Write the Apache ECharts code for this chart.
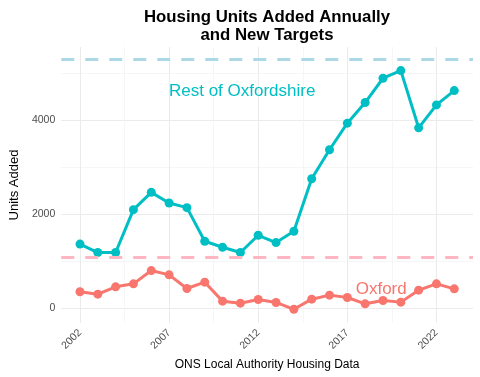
<!DOCTYPE html>
<html>
<head>
<meta charset="utf-8">
<script src="https://cdn.jsdelivr.net/npm/echarts@6/dist/echarts.min.js"></script>
<style>
html, body { margin: 0; padding: 0; background: #fff; }
#chart { width: 480px; height: 377px; }
</style>
</head>
<body>
<div id="chart"></div>
<script>
// data
var years = [2002, 2003, 2004, 2005, 2006, 2007, 2008, 2009, 2010, 2011, 2012,
    2013, 2014, 2015, 2016, 2017, 2018, 2019, 2020, 2021, 2022, 2023];
var restValues = [1365, 1185, 1185, 2100, 2468, 2241, 2142, 1425, 1298, 1185, 1553,
    1397, 1638, 2759, 3376, 3943, 4383, 4901, 5064, 3844, 4333, 4638];
var oxfordValues = [348, 298, 454, 518, 801, 709, 418, 553, 149, 106, 184,
    121, -25, 191, 277, 227, 92, 163, 128, 383, 518, 411];
var restTarget = 5300;
var oxfordTarget = 1075;
var yearTicks = [2002, 2007, 2012, 2017, 2022];
var yearMinor = [2004.5, 2009.5, 2014.5, 2019.5];
var unitTicks = [0, 2000, 4000];
var unitMinor = [1000, 3000, 5000];

var restColor = '#00BFC4';
var oxfordColor = '#F8766D';
var font = 'Liberation Sans, Arial, sans-serif';

function pairs(xs, ys) {
    return xs.map(function (x, i) { return [x, ys[i]]; });
}

var dom = document.getElementById('chart');
var chart = echarts.init(dom, null, { renderer: 'canvas' });

var majorGrid = { show: true, lineStyle: { color: '#ebebeb', width: 1 } };
var minorGrid = { show: true, lineStyle: { color: '#f2f2f2', width: 0.7 } };

var option = {
    animation: false,
    backgroundColor: '#fff',
    title: {
        text: 'Housing Units Added Annually\nand New Targets',
        left: 262,
        top: 3,
        textAlign: 'center',
        textStyle: {
            fontFamily: font,
            fontSize: 16.8,
            fontWeight: 'bold',
            color: '#000',
            lineHeight: 18
        }
    },
    grid: { left: 52, right: 7, top: 47, bottom: 54, containLabel: false },
    xAxis: [
        {
            type: 'value',
            min: 2000.95,
            max: 2024.05,
            name: 'ONS Local Authority Housing Data',
            nameLocation: 'middle',
            nameGap: 33,
            nameTextStyle: { fontFamily: font, fontSize: 12, color: '#000' },
            axisLine: { show: false },
            axisTick: { show: false, customValues: yearTicks },
            axisLabel: {
                customValues: yearTicks,
                rotate: 45,
                margin: 8,
                fontFamily: font,
                fontSize: 10.5,
                color: '#4d4d4d',
                formatter: function (v) { return String(v); }
            },
            splitLine: majorGrid
        },
        {
            type: 'value',
            min: 2000.95,
            max: 2024.05,
            position: 'bottom',
            axisLine: { show: false },
            axisTick: { show: false, customValues: yearMinor },
            axisLabel: { show: false, customValues: yearMinor },
            splitLine: minorGrid
        }
    ],
    yAxis: [
        {
            type: 'value',
            min: -317,
            max: 5567,
            name: 'Units Added',
            nameLocation: 'middle',
            nameRotate: 90,
            nameGap: 33,
            nameTextStyle: { fontFamily: font, fontSize: 13, color: '#000' },
            axisLine: { show: false },
            axisTick: { show: false, customValues: unitTicks },
            axisLabel: {
                customValues: unitTicks,
                margin: 6,
                fontFamily: font,
                fontSize: 10.5,
                color: '#4d4d4d',
                formatter: function (v) { return String(v); }
            },
            splitLine: majorGrid
        },
        {
            type: 'value',
            min: -317,
            max: 5567,
            position: 'left',
            axisLine: { show: false },
            axisTick: { show: false, customValues: unitMinor },
            axisLabel: { show: false, customValues: unitMinor },
            splitLine: minorGrid
        }
    ],
    series: [
        {
            name: 'Rest of Oxfordshire',
            type: 'line',
            data: pairs(years, restValues),
            color: restColor,
            lineStyle: { width: 3, color: restColor },
            symbol: 'circle',
            symbolSize: 9,
            itemStyle: { color: restColor },
            z: 3,
            markLine: {
                silent: true,
                symbol: 'none',
                label: { show: false },
                lineStyle: { color: '#ADD8E6', width: 3, type: [13, 11] },
                data: [{ yAxis: restTarget }]
            },
            markPoint: {
                silent: true,
                symbol: 'circle',
                symbolSize: 0,
                label: {
                    show: true,
                    position: 'inside',
                    formatter: 'Rest of Oxfordshire',
                    fontFamily: font,
                    fontSize: 17,
                    color: restColor
                },
                data: [{ coord: [2011.1, 4620] }]
            }
        },
        {
            name: 'Oxford',
            type: 'line',
            data: pairs(years, oxfordValues),
            color: oxfordColor,
            lineStyle: { width: 3, color: oxfordColor },
            symbol: 'circle',
            symbolSize: 9,
            itemStyle: { color: oxfordColor },
            z: 3,
            markLine: {
                silent: true,
                symbol: 'none',
                label: { show: false },
                lineStyle: { color: '#FFB6C1', width: 3, type: [13, 11] },
                data: [{ yAxis: oxfordTarget }]
            },
            markPoint: {
                silent: true,
                symbol: 'circle',
                symbolSize: 0,
                label: {
                    show: true,
                    position: 'inside',
                    formatter: 'Oxford',
                    fontFamily: font,
                    fontSize: 17,
                    color: oxfordColor
                },
                data: [{ coord: [2018.9, 400] }]
            }
        }
    ]
};

chart.setOption(option);
window.addEventListener('resize', chart.resize);
</script>
</body>
</html>
